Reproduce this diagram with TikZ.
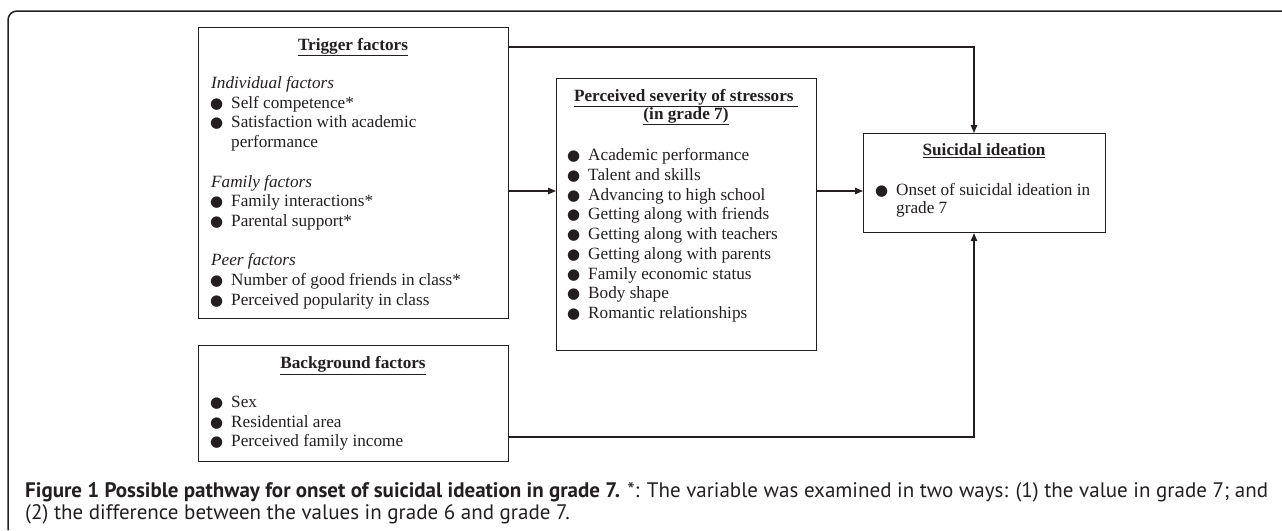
\documentclass[tikz,border=0pt]{standalone}
\usepackage{fontspec}
\setmainfont{Liberation Serif}
\newfontfamily\capfont{PT Sans}
\newfontfamily\dotfont{DejaVu Sans}
\usepackage{tikz}
\usetikzlibrary{arrows.meta,positioning}
\definecolor{ink}{HTML}{231F20}
\newcommand{\blt}{{\dotfont\fontsize{15}{15}\selectfont ●}}

\tikzset{
  box/.style={draw=ink, line width=1.2pt, anchor=north west, inner sep=0pt},
  title/.style={font=\fontsize{17.2}{19.7}\selectfont\bfseries, text=ink, anchor=base, inner sep=0pt},
  item/.style={font=\fontsize{17.2}{19.7}\selectfont, text=ink, anchor=base west, inner sep=0pt},
  head/.style={item, font=\fontsize{17.2}{19.7}\selectfont\itshape},
  capline/.style={font=\capfont\fontsize{21}{23}\selectfont, text=ink, anchor=base west, inner sep=0pt},
  link/.style={draw=ink, line width=1.2pt},
}

\begin{document}
\begin{tikzpicture}[x=1pt,y=-1pt,>={Triangle[length=8pt,width=6.5pt]}]
    \useasboundingbox (0,0) rectangle (1282,530);
    % outer frame
    \draw[ink, line width=1.5pt, rounded corners=9pt] (8,530) -- (8,11) -- (1282,11);

    % boxes
    \node[box, minimum width=310, minimum height=291] (trig) at (198,27)  {};
    \node[box, minimum width=260, minimum height=272] (sev)  at (556,78)  {};
    \node[box, minimum width=242, minimum height=99]  (sui)  at (863,133) {};
    \node[box, minimum width=310, minimum height=116] (bg)   at (198,345) {};

    % trigger factors
    \node[title] (trigT) at (353,50.5) {\underline{Trigger factors}};
    \node[head] (indiv) at (211,88.5) {Individual factors};
    \node[item] (d1) at (210,108.2) {\blt};
    \node[item] (t1) at (231,108.2) {Self competence*};
    \node[item] (d2) at (210,127.9) {\blt};
    \node[item] (t2) at (231,127.9) {Satisfaction with academic};
    \node[item] (t2b) at (231,147.6) {performance};
    \node[head] (fam) at (211,187) {Family factors};
    \node[item] (d3) at (210,206.7) {\blt};
    \node[item] (t3) at (231,206.7) {Family interactions*};
    \node[item] (d4) at (210,226.4) {\blt};
    \node[item] (t4) at (231,226.4) {Parental support*};
    \node[head] (peer) at (211,265.8) {Peer factors};
    \node[item] (d5) at (210,285.5) {\blt};
    \node[item] (t5) at (231,285.5) {Number of good friends in class*};
    \node[item] (d6) at (210,305.2) {\blt};
    \node[item] (t6) at (231,305.2) {Perceived popularity in class};

    % perceived severity
    \node[title] (sevT1) at (686,101.5) {\underline{Perceived severity of stressors\ }};
    \node[title] (sevT2) at (686,119.5) {\underline{(in grade 7)}};
    \foreach \txt [count=\i from 0] in {Academic performance, Talent and skills,
        Advancing to high school, Getting along with friends,
        Getting along with teachers, Getting along with parents,
        Family economic status, Body shape, Romantic relationships} {
      \node[item] (sd\i) at (567,{160.5+19.75*\i}) {\blt};
      \node[item] (st\i) at (588,{160.5+19.75*\i}) {\txt};
    }

    % suicidal ideation
    \node[title] (suiT) at (984,155.5) {\underline{Suicidal ideation}};
    \node[item] (ud) at (875,195.5) {\blt};
    \node[item] (ut) at (896,195.5) {Onset of suicidal ideation in};
    \node[item] (utb) at (896,213.5) {grade 7};

    % background factors
    \node[title] (bgT) at (353,368.5) {\underline{Background factors}};
    \node[item] (bd1) at (210,407.5) {\blt};
    \node[item] (bt1) at (231,407.5) {Sex};
    \node[item] (bd2) at (210,427) {\blt};
    \node[item] (bt2) at (231,427) {Residential area};
    \node[item] (bd3) at (210,446.5) {\blt};
    \node[item] (bt3) at (231,446.5) {Perceived family income};

    % connectors
    \coordinate (lvl) at (0,191);
    \coordinate (topl) at (0,47);
    \coordinate (botl) at (0,437);
    \coordinate (vx) at (974,0);
    \draw[link,->] (trig.east |- lvl) -- (sev.west |- lvl);
    \draw[link,->] (sev.east |- lvl) -- (sui.west |- lvl);
    \draw[link,->] (trig.east |- topl) -| (vx |- sui.north);
    \draw[link,->] (bg.east |- botl) -| (vx |- sui.south);

    % caption
    \node[capline] (cap1) at (25,497) {\makebox[1243pt][s]{\textbf{Figure 1 Possible pathway for onset of suicidal ideation in grade 7.} *: The variable was examined in two ways: (1) the value in grade 7; and}};
    \node[capline] (cap2) at (25,519) {(2) the difference between the values in grade 6 and grade 7.};
\end{tikzpicture}
\end{document}
